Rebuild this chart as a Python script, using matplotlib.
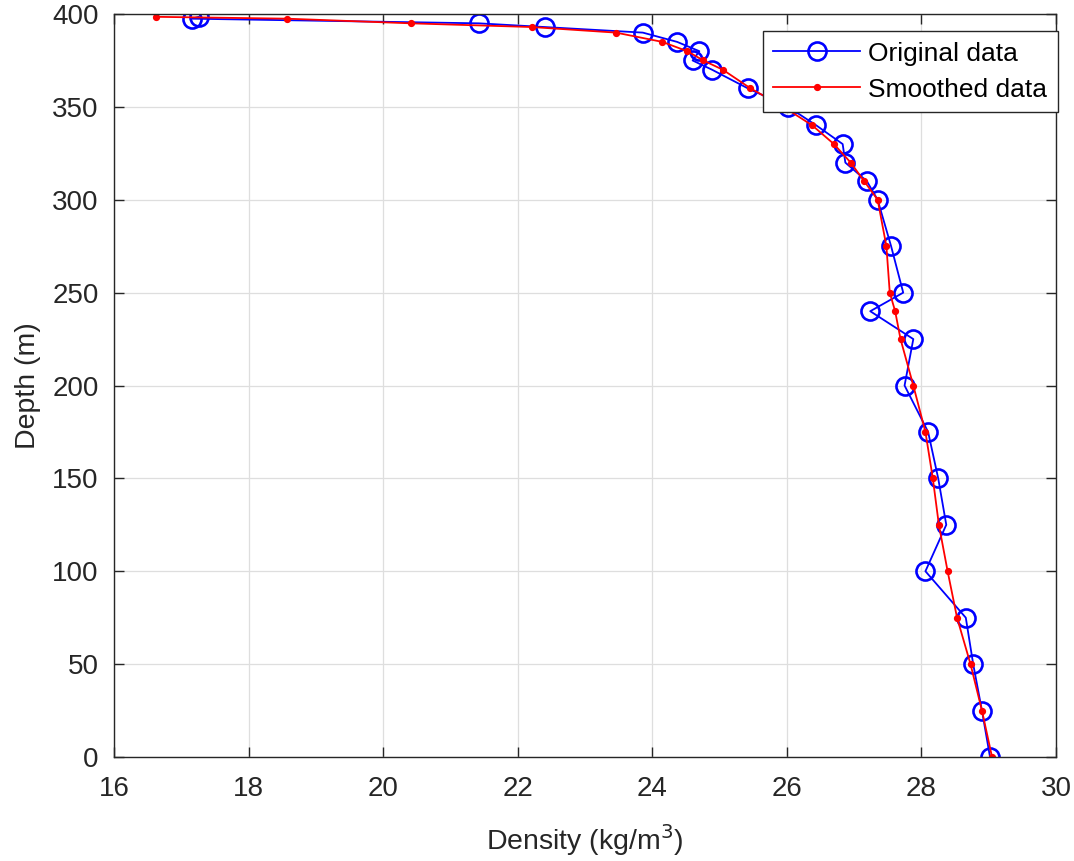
import numpy as np
import matplotlib
matplotlib.use('Agg')
import matplotlib.pyplot as plt

plt.rcParams['font.family'] = ['Liberation Sans', 'DejaVu Sans']

# depth levels (m)
depth = [0, 25, 50, 75, 100, 125, 150, 175, 200, 225, 240, 250, 275, 300, 310,
         320, 330, 340, 350, 360, 370, 375, 380, 385, 390, 393, 395, 397.5, 398.5]
# measured density
original = [29.02, 28.90, 28.77, 28.66, 28.06, 28.37, 28.25, 28.10, 27.75, 27.88,
            27.24, 27.73, 27.55, 27.35, 27.19, 26.87, 26.83, 26.44, 26.02, 25.42,
            24.89, 24.60, 24.70, 24.37, 23.86, 22.40, 21.42, 17.16, 17.26]
# smoothed density
smoothed = [29.05, 28.90, 28.73, 28.53, 28.39, 28.26, 28.17, 28.06, 27.88, 27.69,
            27.61, 27.53, 27.48, 27.35, 27.15, 26.95, 26.70, 26.38, 25.95, 25.46,
            25.05, 24.76, 24.52, 24.15, 23.46, 22.21, 20.41, 18.57, 16.63]

dark = '#262626'

fig = plt.figure(figsize=(10.74, 8.61), dpi=100)
ax = fig.add_axes([0.1061, 0.1208, 0.8771, 0.8629])

ax.plot(original, depth, '-o', color='blue', lw=1.3, ms=13, mew=1.9,
        mfc='none', label='Original data')
ax.plot(smoothed, depth, '-o', color='red', lw=1.3, ms=4.2,
        label='Smoothed data')

ax.set_xlim(16, 30)
ax.set_ylim(0, 400)
ax.set_xticks(np.arange(16, 31, 2))
ax.set_yticks(np.arange(0, 401, 50))
ax.grid(True, color='#dedede', lw=0.9)
ax.set_axisbelow(True)
ax.tick_params(direction='in', length=7, width=1, colors=dark,
               labelsize=20, top=True, right=True)
ax.tick_params(axis='x', pad=14)
ax.tick_params(axis='y', pad=11)
for s in ax.spines.values():
    s.set_color(dark)
    s.set_linewidth(1.0)

ax.set_xlabel('Density (kg/m$^3$)', fontsize=20.5, color=dark, labelpad=14)
ax.set_ylabel('Depth (m)', fontsize=20.5, color=dark, labelpad=8)

leg = ax.legend(loc='upper right', bbox_to_anchor=(1.002, 0.977), fontsize=19,
                handlelength=3.3, fancybox=False, framealpha=1,
                edgecolor=dark, borderpad=0.4, labelspacing=0.45,
                handletextpad=0.3, borderaxespad=0)
leg.get_frame().set_linewidth(1.0)

fig.savefig('out.png', dpi=100)
